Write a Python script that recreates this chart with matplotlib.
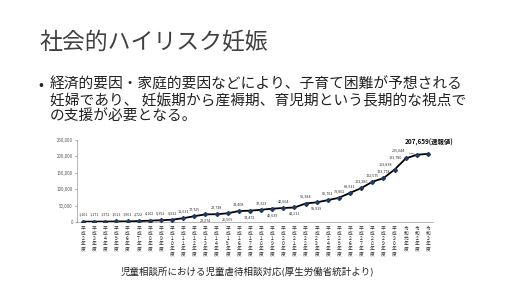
import matplotlib.pyplot as plt

plt.rcParams['font.family'] = ['Noto Sans CJK JP', 'DejaVu Sans']

# 年度 (縦書きラベル)
years = ["平成２年度", "平成３年度", "平成４年度", "平成５年度", "平成６年度",
         "平成７年度", "平成８年度", "平成９年度", "平成１０年度", "平成１１年度",
         "平成１２年度", "平成１３年度", "平成１４年度", "平成１５年度", "平成１６年度",
         "平成１７年度", "平成１８年度", "平成１９年度", "平成２０年度", "平成２１年度",
         "平成２２年度", "平成２３年度", "平成２４年度", "平成２５年度", "平成２６年度",
         "平成２７年度", "平成２８年度", "平成２９年度", "平成３０年度", "令和元年度",
         "令和２年度", "令和３年度"]

# 児童虐待相談対応件数
cases = [1101, 1171, 1372, 1611, 1961, 2722, 4102, 5352, 6932, 11631,
         17725, 23274, 23738, 26569, 33408, 34472, 37323, 40639, 42664, 44211,
         56384, 59919, 66701, 73802, 88931, 103286, 122575, 133778, 159838, 193780,
         205044, 207659]

# label placement: a=above, b=below, l=left
place = (['a'] * 11
         + ['b', 'a', 'b', 'a', 'b', 'a', 'b', 'a', 'b', 'a', 'b', 'a']
         + ['a', 'a', 'a', 'a', 'a', 'al', 'l', 'lead', 'last'])

fig = plt.figure(figsize=(5.12, 2.88), dpi=100)
fig.patch.set_facecolor('white')

# slide text
fig.text(40 / 512, 1 - 42 / 288, "社会的ハイリスク妊娠", fontsize=16.5,
         color='#404040', va='center', ha='left')
fig.text(38 / 512, 1 - 85 / 288, "•", fontsize=10.5, color='#222222',
         va='center', ha='left')
lines = ["経済的要因・家庭的要因などにより、子育て困難が予想される",
         "妊婦であり、 妊娠期から産褥期、育児期という長期的な視点で",
         "の支援が必要となる。"]
for i, s in enumerate(lines):
    fig.text(50 / 512, 1 - (85 + 16 * i) / 288, s, fontsize=10.6,
             color='#222222', va='center', ha='left')

fig.text(247 / 512, 1 - 272 / 288, "児童相談所における児童虐待相談対応(厚生労働省統計より)",
         fontsize=6.8, color='#222222', va='center', ha='center')

# chart
ax = fig.add_axes([77 / 512, 1 - 222 / 288, (433 - 77) / 512, (222 - 140) / 288])
x = list(range(len(cases)))
ax.plot(x, cases, color='black', linewidth=1.3, zorder=2)
ax.plot(x, cases, linestyle='none', marker='D', markersize=2,
        color='#1f3864', zorder=3)

ax.set_xlim(-0.55, len(cases) - 0.55)
ax.set_ylim(0, 250000)
ax.set_yticks(range(0, 250001, 50000))
ax.set_yticklabels([f"{v:,}" for v in range(0, 250001, 50000)])
ax.tick_params(axis='y', labelsize=3.2, length=1.5, width=0.4, colors='#555555', pad=1.5)
ax.set_xticks(x)
ax.set_xticklabels(["\n".join(y) for y in years], fontsize=3.4, linespacing=1.0,
                   color='#333333')
ax.tick_params(axis='x', length=0, pad=3)
for s in ['top', 'right']:
    ax.spines[s].set_visible(False)
for s in ['left', 'bottom']:
    ax.spines[s].set_color('#999999')
    ax.spines[s].set_linewidth(0.5)

for xi, v, p in zip(x, cases, place):
    lab = f"{v:,}"
    if p == 'a':
        ax.annotate(lab, (xi, v), xytext=(0, 3.5), textcoords='offset points',
                    ha='center', va='bottom', fontsize=2.7, color='#333333')
    elif p == 'b':
        ax.annotate(lab, (xi, v), xytext=(0, -3), textcoords='offset points',
                    ha='center', va='top', fontsize=2.7, color='#333333')
    elif p == 'al':
        ax.annotate(lab, (xi, v), xytext=(-2, 2.5), textcoords='offset points',
                    ha='right', va='bottom', fontsize=2.7, color='#333333')
    elif p == 'l':
        ax.annotate(lab, (xi, v), xytext=(-2.5, 1), textcoords='offset points',
                    ha='right', va='center', fontsize=2.7, color='#333333')
    elif p == 'lead':
        ax.annotate(lab, (xi, v), xytext=(-8, 3), textcoords='offset points',
                    ha='right', va='center', fontsize=2.7, color='#333333',
                    arrowprops=dict(arrowstyle='-', color='#555555', lw=0.4,
                                    shrinkA=0.5, shrinkB=1.5))
    else:
        ax.annotate(f"{v:,}(速報値)", (xi, v), xytext=(-17, 6), textcoords='offset points',
                    ha='left', va='bottom', fontsize=4.6, fontweight='bold',
                    color='#111111')

fig.savefig("out.png", dpi=100, facecolor='white')
